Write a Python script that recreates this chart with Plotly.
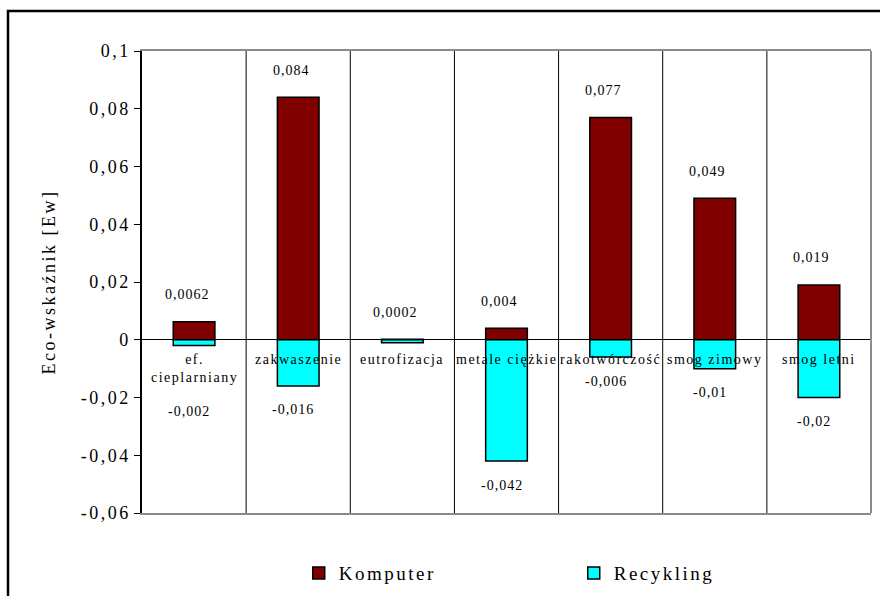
import plotly.graph_objects as go

# Impact categories (line break used where the label wraps)
categories = ["ef.<br>cieplarniany", "zakwaszenie", "eutrofizacja", "metale ciężkie",
              "rakotwórczość", "smog zimowy", "smog letni"]
komputer = [0.0062, 0.084, 0.0002, 0.004, 0.077, 0.049, 0.019]
recykling = [-0.002, -0.016, -0.001, -0.042, -0.006, -0.01, -0.02]
# Which values carry a printed label
komputer_labels = ["0,0062", "0,084", "0,0002", "0,004", "0,077", "0,049", "0,019"]
recykling_labels = ["-0,002", "-0,016", None, "-0,042", "-0,006", "-0,01", "-0,02"]
y_ticks = [0.1, 0.08, 0.06, 0.04, 0.02, 0, -0.02, -0.04, -0.06]
y_tick_text = ["0,1", "0,08", "0,06", "0,04", "0,02", "0", "-0,02", "-0,04", "-0,06"]

FONT = "Liberation Serif"


def spaced(text, px):
    return f'<span style="letter-spacing:{px}px">{text}</span>'


fig = go.Figure()
fig.add_trace(go.Bar(
    x=categories, y=komputer, name=spaced("Komputer", 2.5),
    marker=dict(color="#800000", line=dict(color="black", width=1.5)),
    width=0.4,
))
fig.add_trace(go.Bar(
    x=categories, y=recykling, name=spaced("Recykling", 2.5),
    marker=dict(color="#00FFFF", line=dict(color="black", width=1.5)),
    width=0.4,
))

annotations = []
# Value labels above / below the bars
for cat, v, lab in zip(categories, komputer, komputer_labels):
    annotations.append(dict(x=cat, y=v, xref="x", yref="y", text=spaced(lab, 1),
                            showarrow=False, yshift=27, xshift=-7,
                            font=dict(family=FONT, size=14, color="black")))
for cat, v, lab in zip(categories, recykling, recykling_labels):
    if lab is None:
        continue
    if "<br>" in cat:
        # push below the two-line category name
        annotations.append(dict(x=cat, y=0, xref="x", yref="y", text=spaced(lab, 1),
                                showarrow=False, yshift=-72, xshift=-5,
                                font=dict(family=FONT, size=14, color="black")))
    else:
        annotations.append(dict(x=cat, y=v, xref="x", yref="y", text=spaced(lab, 1),
                                showarrow=False, yshift=-24, xshift=-5,
                                font=dict(family=FONT, size=14, color="black")))
# Category names just under the zero line
for cat in categories:
    annotations.append(dict(x=cat, y=0, xref="x", yref="y", text=spaced(cat, 1.5),
                            showarrow=False, yanchor="top", yshift=-10,
                            font=dict(family=FONT, size=14, color="black")))

shapes = []
# Vertical separators between categories
for i in range(len(categories) - 1):
    shapes.append(dict(type="line", xref="x", yref="paper", x0=i + 0.5, x1=i + 0.5,
                       y0=0, y1=1, line=dict(color="black", width=1), layer="below"))
# Right edge of the plot area
shapes.append(dict(type="line", xref="paper", yref="paper", x0=1, x1=1, y0=0, y1=1,
                   line=dict(color="#8c8c8c", width=2)))
# Outer chart frame
shapes.append(dict(type="rect", xref="paper", yref="paper", x0=-0.1838, x1=1.3,
                   y0=-0.5, y1=1.0866, line=dict(color="black", width=2.5)))

fig.update_layout(
    width=880, height=596,
    margin=dict(l=142, r=9, t=51, b=83, autoexpand=False),
    paper_bgcolor="white", plot_bgcolor="white",
    barmode="relative",
    font=dict(family=FONT, size=17, color="black"),
    showlegend=True,
    legend=dict(orientation="h", x=0.215, xanchor="left", y=-0.089, yanchor="top",
                font=dict(family=FONT, size=19, color="black"),
                entrywidth=230, itemwidth=30, bgcolor="rgba(0,0,0,0)"),
    annotations=annotations,
    shapes=shapes,
    xaxis=dict(range=[-0.5, len(categories) - 0.5], showticklabels=False, ticks="",
               showgrid=False, zeroline=False, showline=True, linecolor="#8c8c8c",
               linewidth=2, mirror=True, fixedrange=True),
    yaxis=dict(range=[-0.06, 0.1], tickvals=y_ticks,
               ticktext=[spaced(t, 2.5) for t in y_tick_text],
               ticks="outside", ticklen=6, tickcolor="black", tickwidth=1,
               showgrid=False, zeroline=True, zerolinecolor="black", zerolinewidth=1,
               showline=True, linecolor="black", linewidth=1.5,
               tickfont=dict(family=FONT, size=18, color="black"),
               title=dict(text=spaced("Eco-wskaźnik [Ew]", 2.5), standoff=20,
                          font=dict(family=FONT, size=18, color="black")),
               fixedrange=True),
)

fig.write_html("out.html")
